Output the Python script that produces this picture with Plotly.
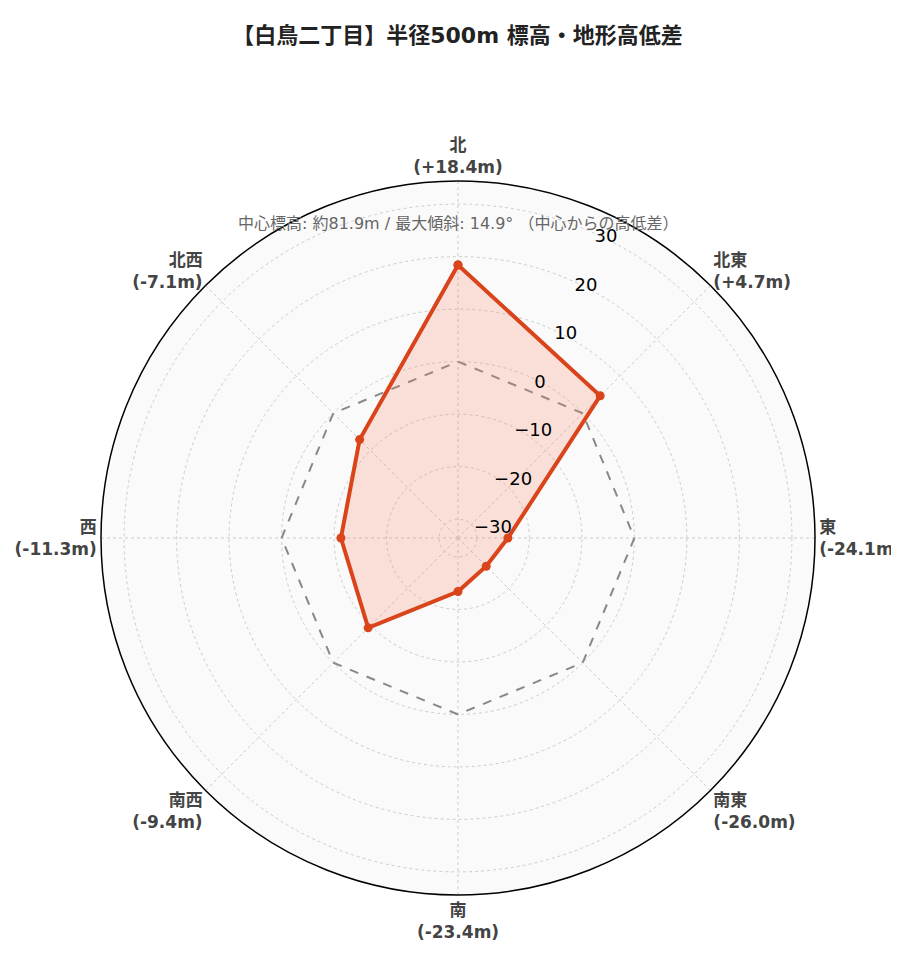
import plotly.graph_objects as go

directions = ['北', '北東', '東', '南東', '南', '南西', '西', '北西']
diffs = [18.4, 4.7, -24.1, -26.0, -23.4, -9.4, -11.3, -7.1]
labels = [f'<b>{d}<br>({v:+.1f}m)</b>' for d, v in zip(directions, diffs)]

theta = labels + [labels[0]]
r = diffs + [diffs[0]]

fig = go.Figure()
fig.add_trace(go.Scatterpolar(r=[0] * 9, theta=theta, mode='lines',
                              line=dict(color='#888', width=2, dash='dash'),
                              hoverinfo='skip', showlegend=False))
fig.add_trace(go.Scatterpolar(r=r, theta=theta, mode='lines+markers', fill='toself',
                              fillcolor='rgba(250,128,100,0.22)',
                              line=dict(color='#d9441a', width=4),
                              marker=dict(size=9, color='#d9441a'), showlegend=False))
fig.add_annotation(text='中心標高: 約81.9m / 最大傾斜: 14.9° （中心からの高低差）',
                   x=0.5, y=905 / 962, xref='paper', yref='paper', showarrow=False,
                   xanchor='center', yanchor='middle',
                   font=dict(size=16, color='#666', family='DejaVu Sans, Noto Sans CJK JP'))
fig.update_layout(
    width=899, height=962, paper_bgcolor='white',
    font=dict(family='DejaVu Sans, Noto Sans CJK JP', color='#333'),
    title=dict(text='<b>【白鳥二丁目】半径500m 標高・地形高低差</b>',
               x=0.5, y=0.972, yanchor='middle', font=dict(size=22, color='#222')),
    margin=dict(l=93, r=92, t=173, b=75),
    polar=dict(
        bgcolor='#fafafa',
        angularaxis=dict(rotation=90, direction='clockwise', tickfont=dict(size=17, color='#444'),
                         linecolor='black', linewidth=1.5,
                         gridcolor='#ccc', griddash='dot', ticks=''),
        radialaxis=dict(range=[-33.6, 34.4], tickvals=[-30, -20, -10, 0, 10, 20, 30],
                        angle=67.5, tickangle=67.5, tickfont=dict(size=18, color='black'),
                        showline=False, ticks='', gridcolor='#ccc', griddash='dot'),
    ),
)
fig.write_html('out.html')
